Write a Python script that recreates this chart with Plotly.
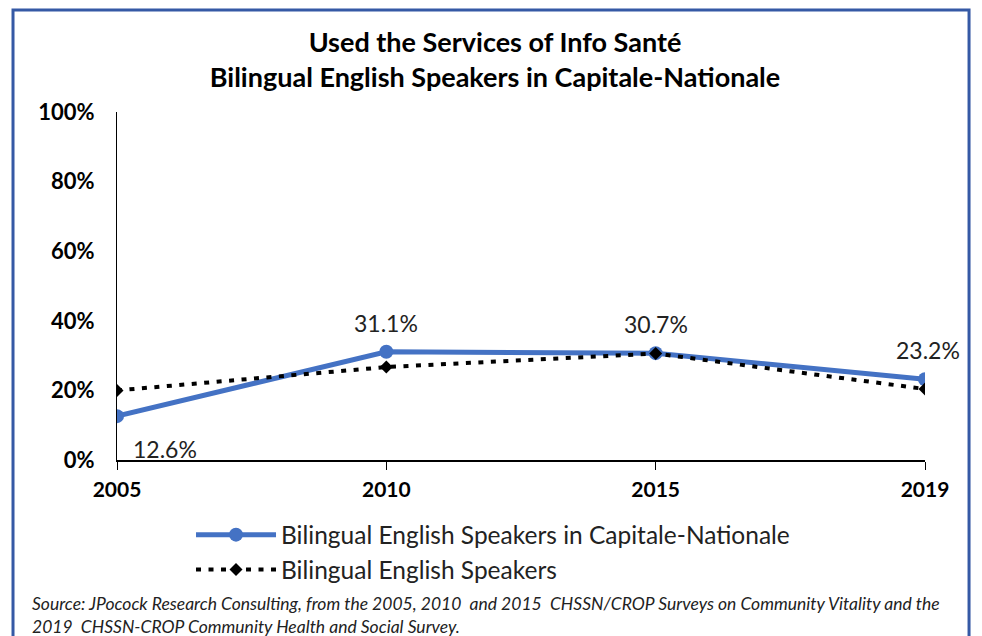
import plotly.graph_objects as go

years = ["2005", "2010", "2015", "2019"]
capitale_nationale = [12.6, 31.1, 30.7, 23.2]
bilingual_all = [20.0, 26.7, 30.6, 20.4]
y_ticks = [0, 20, 40, 60, 80, 100]
y_tick_labels = ["0%", "20%", "40%", "60%", "80%", "100%"]

title_text = "Used the Services of Info Santé<br>Bilingual English Speakers in Capitale-Nationale"
source_text = ("<i>Source: JPocock Research Consulting, from the 2005, 2010  and 2015  CHSSN/CROP Surveys "
               "on Community Vitality and the<br>2019  CHSSN-CROP Community Health and Social Survey.</i>")

FONT = "Lato"
BLUE = "#4472C4"

fig = go.Figure()
fig.add_trace(go.Scatter(
    x=years, y=capitale_nationale, mode="lines+markers",
    name="Bilingual English Speakers in Capitale-Nationale",
    line=dict(color=BLUE, width=5),
    marker=dict(symbol="circle", size=14, color=BLUE),
))
fig.add_trace(go.Scatter(
    x=years, y=bilingual_all, mode="lines+markers",
    name="Bilingual English Speakers",
    line=dict(color="black", width=4, dash="5px,7.5px"),
    marker=dict(symbol="diamond", size=10, color="black"),
))

# data labels for the blue series (x given as category index)
shifts = [(48, -33), (0, 29), (0, 29), (3, 29)]
for i, (v, (dx, dy)) in enumerate(zip(capitale_nationale, shifts)):
    fig.add_annotation(x=i, y=v, xref="x", yref="y", text=f"{v:.1f}%",
                       showarrow=False, xshift=dx, yshift=dy,
                       font=dict(family=FONT, size=23, color="#222"))

fig.add_annotation(x=-0.108, y=-0.376, xref="paper", yref="paper", xanchor="left", yanchor="top",
                   text=source_text, showarrow=False, align="left",
                   font=dict(family=FONT, size=17.5, color="#222"))

# chart frame
fig.add_shape(type="rect", xref="paper", yref="paper", x0=-0.1287, x1=1.0545, y0=-0.6, y1=1.293,
              line=dict(color="#3559A5", width=3), fillcolor="rgba(0,0,0,0)")

fig.update_layout(
    width=974, height=628,
    margin=dict(l=109, r=57, t=104, b=176),
    paper_bgcolor="white", plot_bgcolor="white",
    title=dict(text=title_text, x=0.5, xref="container", xanchor="center",
               y=0.93, yanchor="top",
               font=dict(family=FONT, size=27, color="black", weight="bold")),
    font=dict(family=FONT, color="black"),
    showlegend=True,
    legend=dict(x=0.0916, y=-0.15, xanchor="left", yanchor="top",
                font=dict(family=FONT, size=24.5, color="#222"),
                itemwidth=80, tracegroupgap=0, bgcolor="rgba(0,0,0,0)"),
)
fig.update_xaxes(
    type="category", range=[0, 3], showline=True, linecolor="black", linewidth=1.5,
    ticks="outside", ticklen=8, tickcolor="black", showgrid=False, zeroline=False,
    tickfont=dict(family=FONT, size=21, color="black", weight="bold"),
    ticklabelstandoff=2,
)
fig.update_yaxes(
    range=[0, 100], tickvals=y_ticks, ticktext=y_tick_labels,
    showline=True, linecolor="black", linewidth=1, ticks="", showgrid=False, zeroline=False,
    tickfont=dict(family=FONT, size=22, color="black", weight="bold"),
    ticklabelstandoff=17,
)

fig.write_html("out.html")
